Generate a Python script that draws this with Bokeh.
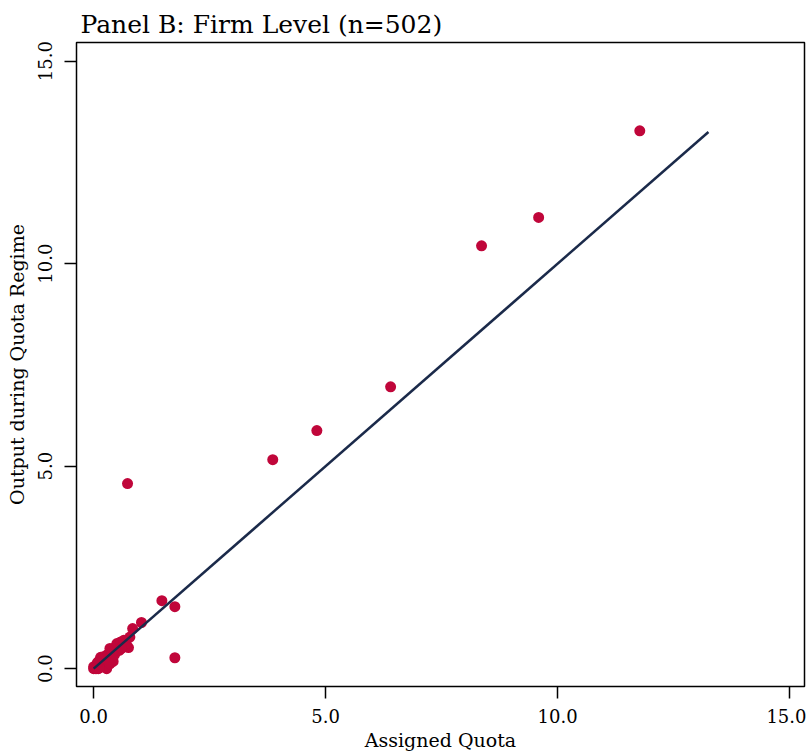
from bokeh.plotting import figure
from bokeh.models import Range1d, FixedTicker, ColumnDataSource
from bokeh.embed import file_html
from bokeh.resources import INLINE

# Data: assigned quota (x) vs output during quota regime (y), firm level
quota = [11.77, 9.59, 8.36, 6.40, 4.81, 3.86, 0.73, 1.47, 1.75, 1.75, 1.03, 0.84, 0.75,
         0.00, 0.02, 0.03, 0.05, 0.06, 0.08, 0.10, 0.10, 0.12, 0.14, 0.15, 0.18, 0.20,
         0.22, 0.25, 0.27, 0.30, 0.32, 0.35, 0.38, 0.40, 0.42, 0.45, 0.48, 0.50, 0.55,
         0.58, 0.62, 0.65, 0.70, 0.78, 0.00, 0.05, 0.20, 0.28, 0.12, 0.08, 0.35, 0.60]
output = [13.28, 11.14, 10.44, 6.96, 5.88, 5.16, 4.57, 1.68, 1.53, 0.27, 1.14, 0.99, 0.52,
          0.00, 0.01, 0.05, 0.02, 0.08, 0.04, 0.12, 0.00, 0.20, 0.10, 0.28, 0.15, 0.05,
          0.30, 0.20, 0.10, 0.35, 0.25, 0.50, 0.30, 0.42, 0.18, 0.35, 0.55, 0.62, 0.45,
          0.66, 0.55, 0.70, 0.62, 0.78, 0.05, 0.00, 0.22, 0.00, 0.02, 0.15, 0.12, 0.50]
fit_x = [0.0, 13.25]
fit_y = [0.0, 13.25]
ticks = [0, 5, 10, 15]
tick_labels = {0: "0.0", 5: "5.0", 10: "10.0", 15: "15.0"}

FONT = "DejaVu Serif"

p = figure(frame_width=728, frame_height=644,
           min_border_left=76, min_border_right=2, min_border_top=42, min_border_bottom=62,
           x_range=Range1d(-0.37, 15.32), y_range=Range1d(-0.44, 15.46),
           output_backend="svg", toolbar_location=None,
           title="Panel B: Firm Level (n=502)")

p.title.text_font = FONT
p.title.text_font_size = "25px"
p.title.text_font_style = "normal"
p.title.text_color = "black"
p.title.align = "left"
p.title.offset = 4
p.title.standoff = 8

p.xgrid.visible = False
p.ygrid.visible = False
p.outline_line_color = "black"
p.outline_line_width = 1.5
p.background_fill_color = "white"
p.border_fill_color = "white"

src = ColumnDataSource(dict(x=quota, y=output))
p.scatter("x", "y", source=src, size=11, color="#C0063A", line_color=None)
p.line(fit_x, fit_y, line_color="#1B2A4A", line_width=2.5)

for ax in (p.xaxis, p.yaxis):
    ax.ticker = FixedTicker(ticks=ticks)
    ax.major_label_overrides = tick_labels
    ax.axis_line_color = None
    ax.major_tick_in = 0
    ax.major_tick_out = 12
    ax.major_tick_line_width = 1.5
    ax.major_tick_line_color = "black"
    ax.minor_tick_line_color = None
    ax.major_label_text_font = FONT
    ax.major_label_text_font_size = "18px"
    ax.major_label_text_color = "black"
    ax.axis_label_text_font = FONT
    ax.axis_label_text_font_size = "19px"
    ax.axis_label_text_font_style = "normal"
    ax.axis_label_text_color = "black"

p.xaxis.axis_label = "Assigned Quota"
p.xaxis.major_label_standoff = 10
p.xaxis.axis_label_standoff = 3
p.yaxis.axis_label = "Output during Quota Regime"
p.yaxis.major_label_orientation = "vertical"
p.yaxis.major_label_standoff = 12
p.yaxis.axis_label_standoff = 8

open("out.html", "w").write(file_html(p, INLINE))
